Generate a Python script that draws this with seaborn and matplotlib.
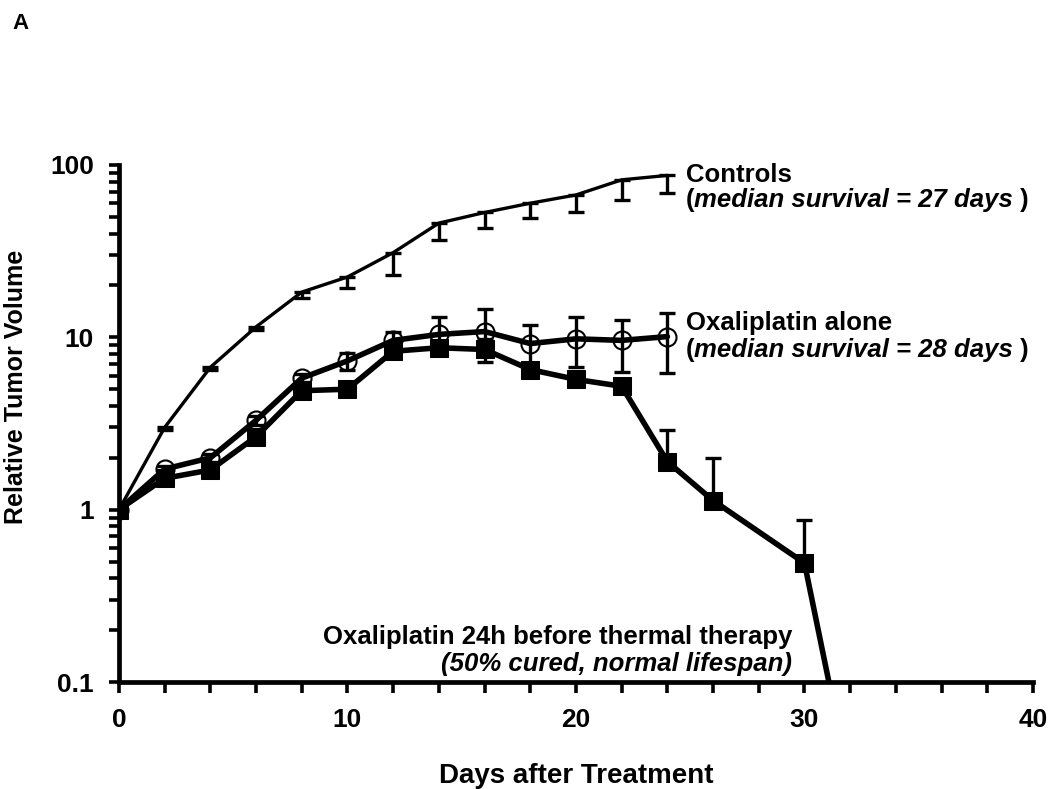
import numpy as np
import pandas as pd
import matplotlib
matplotlib.use("Agg")
import matplotlib.pyplot as plt
import seaborn as sns

# days after treatment
days_ctrl = [0, 2, 4, 6, 8, 10, 12, 14, 16, 18, 20, 22, 24]
days_oxa = [0, 2, 4, 6, 8, 10, 12, 14, 16, 18, 20, 22, 24]
days_combo = [0, 2, 4, 6, 8, 10, 12, 14, 16, 18, 20, 22, 24, 26, 30, 32]

# relative tumour volume
ctrl = [1.0, 3.0, 6.7, 11.5, 18.3, 22.4, 31, 46, 53, 60, 67, 82, 87]
ctrl_low = [1.0, 2.9, 6.5, 11.0, 17.0, 19.4, 23, 36.5, 43, 49, 53.5, 63, 69]

oxa = [1.0, 1.72, 2.0, 3.3, 5.8, 7.3, 9.6, 10.4, 10.8, 9.2, 9.8, 9.6, 10.1]
oxa_low = [1.0, 1.65, 1.9, 3.1, 5.5, 6.5, 9.0, 8.6, 8.4, 7.1, 6.7, 6.3, 6.2]
oxa_high = [1.0, 1.8, 2.1, 3.5, 6.1, 8.1, 10.8, 13.1, 14.6, 11.8, 13.1, 12.6, 13.8]

combo = [1.0, 1.52, 1.7, 2.65, 4.9, 5.0, 8.3, 8.7, 8.5, 6.5, 5.7, 5.2, 1.9, 1.13, 0.49, 0.025]
combo_low = [1.0, 1.5, 1.65, 2.6, 4.8, 4.9, 8.0, 8.0, 7.2, 6.3, 5.5, 5.0, 1.9, 1.13, 0.49, 0.025]
combo_high = [1.0, 1.55, 1.75, 2.7, 5.0, 5.1, 8.6, 9.4, 9.8, 6.7, 5.9, 5.4, 2.9, 2.0, 0.87, 0.025]

sns.set_style("ticks")
plt.rcParams['font.family'] = ['Liberation Sans', 'DejaVu Sans']
plt.rcParams['font.weight'] = 'bold'
for key in ['text.color', 'axes.labelcolor', 'xtick.color', 'ytick.color', 'axes.edgecolor']:
    plt.rcParams[key] = 'black'

fig = plt.figure(figsize=(10.5, 7.89), dpi=100)
ax = fig.add_axes([0.1133, 0.1356, 0.8705, 0.6553])

df_ctrl = pd.DataFrame({'day': days_ctrl, 'vol': ctrl})
df_oxa = pd.DataFrame({'day': days_oxa, 'vol': oxa})
df_combo = pd.DataFrame({'day': days_combo, 'vol': combo})

# error bars first so lines/markers sit on top
ax.errorbar(days_ctrl, ctrl,
            yerr=[np.array(ctrl) - np.array(ctrl_low), np.zeros(len(ctrl))],
            fmt='none', ecolor='black', elinewidth=2.4, capsize=5.5, capthick=2.4)
ax.errorbar(days_oxa, oxa,
            yerr=[np.array(oxa) - np.array(oxa_low), np.array(oxa_high) - np.array(oxa)],
            fmt='none', ecolor='black', elinewidth=2.4, capsize=5.5, capthick=2.4)
ax.errorbar(days_combo, combo,
            yerr=[np.array(combo) - np.array(combo_low), np.array(combo_high) - np.array(combo)],
            fmt='none', ecolor='black', elinewidth=2.4, capsize=5.5, capthick=2.4)

sns.lineplot(data=df_ctrl, x='day', y='vol', ax=ax, color='black', lw=2.4)
sns.lineplot(data=df_oxa, x='day', y='vol', ax=ax, color='black', lw=4,
             marker='o', markersize=13, markerfacecolor='none',
             markeredgecolor='black', markeredgewidth=1.5)
sns.lineplot(data=df_combo, x='day', y='vol', ax=ax, color='black', lw=4,
             marker='s', markersize=13, markerfacecolor='black',
             markeredgecolor='black')

ax.set_yscale('log')
ax.set_ylim(0.1, 100)
ax.set_xlim(0, 40)
ax.set_xticks(np.arange(0, 41, 10))
ax.set_xticks(np.arange(0, 41, 2), minor=True)
ax.set_yticks([0.1, 1, 10, 100])
ax.set_yticklabels(['0.1', '1', '10', '100'])
ax.yaxis.set_minor_locator(matplotlib.ticker.LogLocator(base=10, subs=np.arange(2, 10)))
ax.yaxis.set_minor_formatter(matplotlib.ticker.NullFormatter())

for side in ['top', 'right']:
    ax.spines[side].set_visible(False)
for side in ['left', 'bottom']:
    ax.spines[side].set_linewidth(3.4)

ax.tick_params(axis='x', which='both', direction='out', length=8, width=2.6, pad=11, labelsize=19)
ax.tick_params(axis='y', which='both', direction='out', length=7, width=2.6, pad=11, labelsize=19)
for lab in ax.get_xticklabels() + ax.get_yticklabels():
    lab.set_fontweight('bold')

ax.set_xlabel('Days after Treatment', fontsize=20, fontweight='bold', labelpad=22)
ax.set_ylabel('Relative Tumor Volume', fontsize=18, fontweight='bold')
ax.yaxis.set_label_coords(-0.099, 0.57)

fs = 18.5


def rich_text(x, y, parts):
    t = ax.text(x, y, parts[0][0], style=parts[0][1], fontweight='bold',
                fontsize=fs, va='center', ha='left')
    for s, st in parts[1:]:
        t = ax.annotate(s, xycoords=t, xy=(1, 0), va='bottom', ha='left',
                        style=st, fontweight='bold', fontsize=fs)
    return t


ax.text(24.8, 87.5, 'Controls', fontsize=fs, fontweight='bold', va='center')
rich_text(24.8, 62.7, [('(', 'normal'), ('median survival = 27 days', 'italic'), (' )', 'normal')])
ax.text(24.8, 12.1, 'Oxaliplatin alone', fontsize=fs, fontweight='bold', va='center')
rich_text(24.8, 8.4, [('(', 'normal'), ('median survival = 28 days', 'italic'), (' )', 'normal')])
ax.text(29.45, 0.182, 'Oxaliplatin 24h before thermal therapy', fontsize=fs,
        fontweight='bold', va='center', ha='right')
ax.text(29.45, 0.127, '(50% cured, normal lifespan)', fontsize=fs,
        fontweight='bold', style='italic', va='center', ha='right')

fig.text(0.012, 0.97, 'A', fontsize=16, fontweight='bold', va='center', ha='left')

fig.savefig('out.png', dpi=100)
